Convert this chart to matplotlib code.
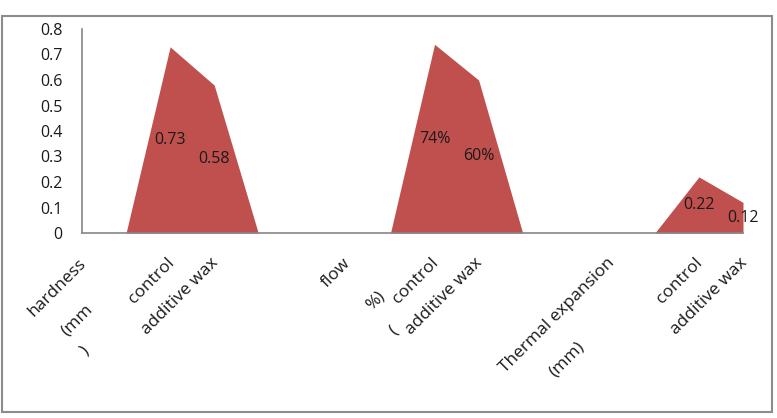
import numpy as np
import matplotlib
matplotlib.use("Agg")
import matplotlib.pyplot as plt
from matplotlib.patches import Rectangle

plt.rcParams['font.family'] = ['Open Sans', 'DejaVu Sans']

# category slots along the x axis (empty strings are spacer slots)
categories = ["hardness\n(mm\n)", "", "control", "additive wax", "", "",
              "flow\n%)\n(", "", "control", "additive wax", "", "",
              "Thermal expansion\n(mm)", "", "control", "additive wax"]
values = [0, 0, 0.73, 0.58, 0, 0, 0, 0, 0.74, 0.60, 0, 0, 0, 0, 0.22, 0.12]
point_labels = {2: "0.73", 3: "0.58", 8: "74%", 9: "60%", 14: "0.22", 15: "0.12"}
y_ticks = [0, 0.1, 0.2, 0.3, 0.4, 0.5, 0.6, 0.7, 0.8]

fill_col = "#C0504D"
axis_col = "#868686"
txt_col = "#1a1a1a"

# pixel offsets (dx right, dy down) of the 2nd/3rd lines of wrapped labels
line_shift = {0: [(7, 46), (3, 88)],
              6: [(34, 33), (47, 68)],
              12: [(-31, 84)]}

fig = plt.figure(figsize=(7.77, 4.18), dpi=100)
ax = fig.add_axes([82/777, 1-233/418, (743-82)/777, (233-29)/418])

x = np.arange(len(values))
ax.fill_between(x, values, 0, color=fill_col, linewidth=0)

for i, txt in point_labels.items():
    ax.text(x[i], values[i]/2, txt, ha='center', va='center', fontsize=11.5, color=txt_col)

ax.set_xlim(0, len(values)-1)
ax.set_ylim(0, 0.8)
ax.set_yticks(y_ticks)
ax.set_yticklabels([f"{v:g}" for v in y_ticks])
ax.set_xticks(x)
ax.set_xticklabels([])
ax.tick_params(axis='y', length=0, pad=14, labelsize=11.5, labelcolor=txt_col)
ax.tick_params(axis='x', length=0)

# rotated category labels, each line placed on its own
px = 0.72
for i, lab in enumerate(categories):
    if not lab:
        continue
    lines = lab.split("\n")
    shifts = [(0, 0)] + line_shift.get(i, [])
    for line, (dx, dy) in zip(lines, shifts):
        ax.annotate(line, xy=(x[i], 0), xycoords='data',
                    xytext=((dx - 4) * px, -(dy + 22) * px), textcoords='offset points',
                    rotation=45, rotation_mode='anchor', ha='right', va='top',
                    fontsize=12.5, color=txt_col, annotation_clip=False)

for s in ['top', 'right']:
    ax.spines[s].set_visible(False)
for s in ['left', 'bottom']:
    ax.spines[s].set_color(axis_col)
    ax.spines[s].set_linewidth(1.2)

# chart area border
fig.patches.append(Rectangle((1.5/777, 1-412/418), 770.5/777, 396/418,
                             transform=fig.transFigure, fill=False,
                             edgecolor='#8c8c8c', linewidth=1.5))

fig.savefig("out.png", dpi=100)
